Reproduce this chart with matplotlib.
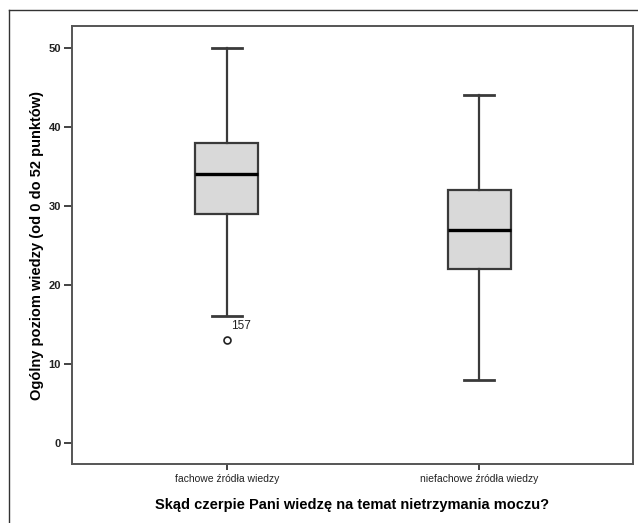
import matplotlib
matplotlib.use('Agg')
import matplotlib.pyplot as plt
from matplotlib.lines import Line2D

plt.rcParams['font.family'] = ['Liberation Sans', 'DejaVu Sans']

# ── dane ──────────────────────────────────────────────────────────────────
categories = ['fachowe źródła wiedzy', 'niefachowe źródła wiedzy']
whislo = [16, 8]
q1 = [29, 22]
med = [34, 27]
q3 = [38, 32]
whishi = [50, 44]
outliers = [[13], []]
outlier_ids = [['157'], []]
yticks = [0, 10, 20, 30, 40, 50]

W, H = 638, 523
fig = plt.figure(figsize=(W / 100, H / 100), dpi=100)
fig.patch.set_facecolor('white')

# ramka zewnętrzna (lewa + górna krawędź)
fig.add_artist(Line2D([9 / W, 9 / W], [0, 1 - 10 / H], transform=fig.transFigure,
                      color='#333333', lw=1.0))
fig.add_artist(Line2D([9 / W, 1], [1 - 10 / H, 1 - 10 / H], transform=fig.transFigure,
                      color='#333333', lw=1.0))

ax = fig.add_axes([72 / W, 1 - 464 / H, (633 - 72) / W, (464 - 26) / H])

stats = []
for i, name in enumerate(categories):
    stats.append(dict(label=name, whislo=whislo[i], q1=q1[i], med=med[i],
                      q3=q3[i], whishi=whishi[i], fliers=outliers[i]))

ax.bxp(stats, positions=[1, 2], widths=0.25, patch_artist=True, showfliers=True,
       boxprops=dict(facecolor='#d9d9d9', edgecolor='#3a3a3a', lw=1.6),
       medianprops=dict(color='black', lw=2.4),
       whiskerprops=dict(color='#3a3a3a', lw=1.6),
       capprops=dict(color='#3a3a3a', lw=2.0),
       capwidths=0.12,
       flierprops=dict(marker='o', markersize=5, markerfacecolor='white',
                       markeredgecolor='#222222', markeredgewidth=1.2))

for i, (vals, ids) in enumerate(zip(outliers, outlier_ids)):
    for v, lab in zip(vals, ids):
        ax.text(i + 1 + 0.015, v + 1.0, lab, fontsize=8.5, color='#222222',
                ha='left', va='bottom')

ax.set_xlim(0.385, 2.611)
ax.set_ylim(-2.7, 52.8)
ax.set_yticks(yticks)
ax.set_xticks([1, 2])
ax.set_xticklabels(categories, fontsize=7.5, color='#222222')
ax.tick_params(axis='y', labelsize=8, colors='#222222', length=6, width=1.2, pad=2)
ax.tick_params(axis='x', length=4, width=1.2, colors='#222222')
for lab in ax.get_yticklabels():
    lab.set_fontweight('bold')

for sp in ax.spines.values():
    sp.set_color('#555555')
    sp.set_linewidth(1.4)

ax.set_ylabel('Ogólny poziom wiedzy (od 0 do 52 punktów)', fontsize=10.5,
              fontweight='bold', labelpad=3)
ax.set_xlabel('Skąd czerpie Pani wiedzę na temat nietrzymania moczu?', fontsize=10.5,
              fontweight='bold', labelpad=10)

plt.savefig('out.png', dpi=100, facecolor='white')
plt.close()
